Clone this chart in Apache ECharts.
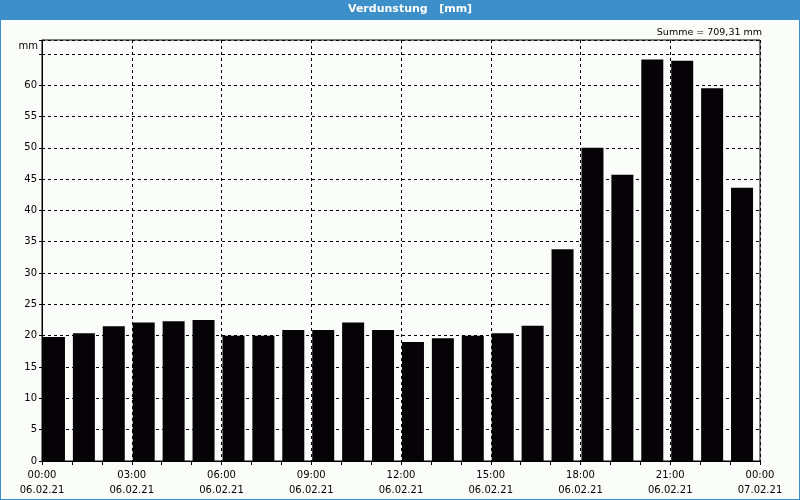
<!DOCTYPE html>
<html>
<head>
<meta charset="utf-8">
<script src="https://cdn.jsdelivr.net/npm/echarts@6/dist/echarts.min.js"></script>
<style>
  html, body { margin: 0; padding: 0; background: #fff; }
  #chart { width: 800px; height: 500px; box-sizing: border-box; border: 1px solid #3d8fc7; border-top: none; background: #fbfdfb; }
</style>
</head>
<body>
<div id="chart"></div>
<script>
// hourly evaporation, 06.02.21 00:00 .. 07.02.21 00:00
const hours = ['00', '01', '02', '03', '04', '05', '06', '07', '08', '09', '10', '11',
  '12', '13', '14', '15', '16', '17', '18', '19', '20', '21', '22', '23']
const values = [19.8, 20.4, 21.5, 22.1, 22.3, 22.5, 20.0, 20.0, 20.9, 20.9, 22.1, 20.9,
  19.0, 19.6, 20.0, 20.4, 21.6, 33.8, 50.0, 45.7, 64.1, 63.9, 59.5, 43.6]
const tickTimes = ['00:00', '03:00', '06:00', '09:00', '12:00', '15:00', '18:00', '21:00', '00:00']
const tickDates = ['06.02.21', '06.02.21', '06.02.21', '06.02.21', '06.02.21', '06.02.21', '06.02.21', '06.02.21', '07.02.21']
const summe = '709,31'

const font = 'DejaVu Sans'
const dash = { type: [3, 3], color: '#000', width: 1 }

const chart = echarts.init(document.getElementById('chart'), null, { renderer: 'canvas' })

chart.setOption({
  animation: false,
  textStyle: { fontFamily: font },
  graphic: [
    { type: 'rect', left: 0, top: 0, shape: { width: 800, height: 20 }, style: { fill: '#3c8fc8' }, silent: true },
  ],
  title: [
    {
      text: 'Verdunstung   [mm]',
      left: 347, top: 4, padding: 0,
      textStyle: { color: '#fff', fontSize: 11, fontWeight: 'bold', fontFamily: font },
    },
    {
      text: 'Summe = ' + summe + ' mm',
      right: 37, top: 28, padding: 0,
      textStyle: { color: '#000', fontSize: 9.5, fontWeight: 'normal', fontFamily: font },
    },
  ],
  grid: { left: 41, right: 39, top: 40, bottom: 38, show: true, borderColor: '#000', borderWidth: 1, backgroundColor: 'transparent' },
  xAxis: {
    type: 'value', min: 0, max: 24, interval: 3,
    axisLine: { lineStyle: { color: '#000' } },
    axisTick: { length: 4, lineStyle: { color: '#000' } },
    minorTick: { show: true, splitNumber: 3, length: 4, lineStyle: { color: '#000' } },
    splitLine: { show: true, lineStyle: dash },
    axisLabel: {
      color: '#000', fontSize: 10, fontFamily: font, lineHeight: 15, margin: 7,
      formatter: v => { const i = v / 3; return tickTimes[i] + '\n' + tickDates[i] },
    },
  },
  yAxis: {
    type: 'value', min: 0, max: 67.2, interval: 5,
    name: 'mm', nameLocation: 'end', nameGap: -6,
    nameTextStyle: { color: '#000', fontSize: 10, fontFamily: font, align: 'right', verticalAlign: 'middle', padding: [0, 4, 0, 0] },
    axisLine: { show: true, lineStyle: { color: '#000' } },
    axisTick: { show: true, length: 3, lineStyle: { color: '#000' } },
    splitLine: { show: true, lineStyle: dash },
    axisLabel: {
      color: '#000', fontSize: 10, fontFamily: font, margin: 5,
      formatter: v => (v % 5 === 0 && v <= 60) ? String(v) : '',
    },
  },
  series: [
    {
      type: 'bar', barWidth: 22, barGap: 0,
      data: values.map((v, i) => [i + 0.5, v]),
      itemStyle: { color: '#050305' },
    },
    {
      // empty spacer so the bars sit at the left of each hour slot
      type: 'bar', barWidth: 6, barGap: 0,
      data: hours.map((h, i) => [i + 0.5, 0]),
      itemStyle: { color: 'transparent' },
    },
  ],
})
</script>
</body>
</html>
